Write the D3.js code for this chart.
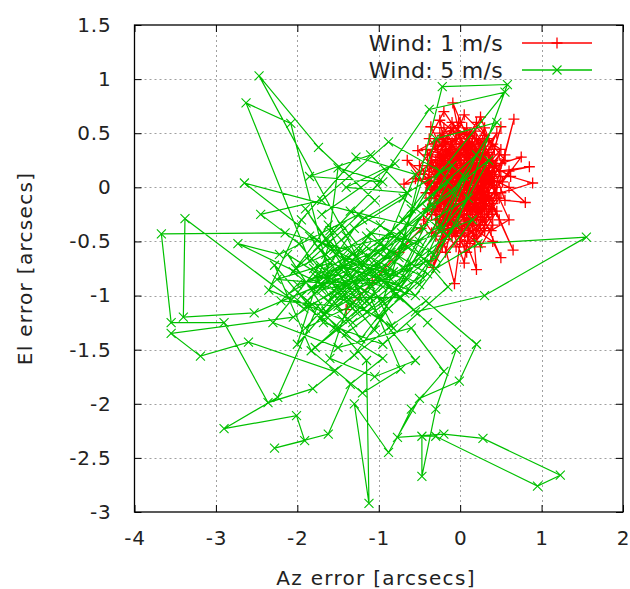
<!DOCTYPE html>
<html>
<head>
<meta charset="utf-8">
<script src="https://cdn.jsdelivr.net/npm/d3@7"></script>
<style>
  html, body { margin: 0; padding: 0; background: #fff; }
  svg { display: block; }
  text { font-family: "DejaVu Sans", sans-serif; fill: #222; }
</style>
</head>
<body>
<script>
// ---- data ----
const xTicks = [-4, -3, -2, -1, 0, 1, 2];
const yTicks = [-3, -2.5, -2, -1.5, -1, -0.5, 0, 0.5, 1, 1.5];
const xLabel = "Az error [arcsecs]";
const yLabel = "El error [arcsecs]";
const seriesNames = ["Wind: 1 m/s", "Wind: 5 m/s"];

// Wind 1 m/s : [az, el]
const wind1 = [
[-1.40,-1.13],[-1.08,-0.88],[-0.75,-0.6],[-0.48,-0.38],[-0.28,-0.18],[-0.1,0.02],[0.12,-0.1],[0.05,0.22],[-0.18,0.08],[0.2,0.15],
[0.32,-0.12],[0.08,-0.3],[-0.15,-0.2],[-0.3,0.18],[0.02,0.4],[0.25,0.3],[0.4,0.05],[0.15,-0.22],[-0.05,0.0],[-0.22,-0.38],
[0.1,-0.45],[0.35,-0.25],[0.5,0.1],[0.28,0.42],[-0.08,0.55],[-0.35,0.3],[-0.42,-0.05],[-0.12,-0.12],[0.18,0.05],[0.05,0.3],
[-0.25,0.45],[-0.52,0.34],[-0.2,0.1],[0.1,0.12],[0.3,0.2],[0.45,-0.1],[0.22,-0.35],[-0.02,-0.25],[-0.3,-0.1],[-0.65,0.25],
[-0.28,0.0],[0.0,0.08],[0.15,0.35],[-0.09,0.78],[0.0,0.45],[0.25,0.05],[0.38,-0.2],[0.12,-0.52],[-0.15,-0.4],[-0.36,-0.68],
[-0.1,-0.28],[0.08,-0.05],[0.32,0.12],[0.55,0.25],[0.3,0.48],[0.05,0.67],[-0.15,0.3],[-0.38,0.05],[-0.18,-0.15],[0.05,-0.15],
[0.22,0.1],[0.42,0.35],[0.5,0.56],[0.35,0.18],[0.15,-0.05],[-0.05,0.15],[-0.25,0.28],[-0.45,0.12],[-0.22,-0.25],[0.02,-0.4],
[0.2,-0.76],[0.15,-0.3],[0.3,-0.05],[0.48,-0.3],[0.65,-0.58],[0.4,-0.15],[0.2,0.22],[-0.05,0.35],[-0.2,0.55],[-0.36,0.56],
[-0.12,0.2],[0.1,-0.02],[0.28,-0.22],[0.05,-0.1],[-0.12,0.05],[-0.3,-0.22],[-0.07,-0.89],[0.0,-0.5],[0.18,-0.15],[0.38,0.08],
[0.6,0.0],[0.8,-0.14],[0.55,-0.12],[0.35,0.3],[0.12,0.5],[-0.1,0.42],[-0.28,0.15],[-0.4,-0.2],[-0.15,-0.05],[0.05,0.18],
[0.25,0.38],[0.3,0.55],[0.1,0.25],[-0.08,-0.02],[-0.25,-0.3],[-0.05,-0.42],[0.2,-0.25],[0.42,-0.05],[0.66,0.63],[0.55,0.3],
[0.35,0.0],[0.12,-0.2],[-0.1,-0.1],[-0.32,0.1],[-0.69,0.03],[-0.4,0.2],[-0.18,0.35],[0.02,0.2],[0.2,0.0],[0.4,-0.35],
[0.25,-0.55],[0.05,-0.3],[-0.12,-0.18],[-0.28,0.05],[-0.1,0.22],[0.08,0.4],[0.3,0.25],[0.48,0.15],[0.85,0.19],[0.6,0.15],
[0.35,-0.1],[0.15,0.1],[-0.05,0.28],[-0.22,0.12],[-0.38,-0.1],[-0.2,-0.48],[0.0,-0.22],[0.18,-0.05],[0.35,0.15],[0.15,0.32],
[-0.05,0.5],[-0.25,0.62],[-0.15,0.25],[0.05,0.05],[0.25,-0.12],[0.45,-0.22],[0.3,-0.4],[0.08,-0.6],[-0.1,-0.35],[-0.33,-0.74],
[-0.15,-0.25],[0.05,-0.02],[0.22,0.18],[0.4,0.4],[0.2,0.6],[0.0,0.35],[-0.18,0.0],[-0.35,-0.25],[-0.12,-0.3],[0.1,-0.18],
[0.3,0.08],[0.52,0.05],[0.75,0.28],[0.5,0.22],[0.28,0.1],[0.08,0.25],[-0.12,0.4],[-0.3,0.38],[-0.5,0.2],[-0.25,-0.02],
[0.0,-0.12],[0.2,-0.4],[0.4,-0.5],[0.5,-0.65],[0.3,-0.3],[0.1,0.0],[-0.08,0.12],[-0.2,-0.08],[-0.45,-0.3],[-0.22,-0.55],
[0.02,-0.38],[0.2,-0.1],[0.36,0.22],[0.18,0.45],[-0.02,0.6],[-0.2,0.42],[-0.05,0.15],[0.15,-0.05],[0.32,-0.18],[0.12,-0.35],
[-0.08,-0.15],[-0.3,0.0],[-0.55,0.08],[-0.35,0.25],[-0.1,0.32],[0.12,0.2],[0.3,0.35],[0.45,0.5],[0.25,0.2],[0.05,-0.08],
[-0.15,-0.28],[0.05,-0.7],[0.1,-0.42],[0.28,-0.15],[0.5,-0.05],[0.89,0.04],[0.62,0.1],[0.4,0.2],[0.2,0.08],[0.0,0.2],
[-0.18,0.22],[-0.38,0.45],[-0.2,0.7],[-0.02,0.5],[0.15,0.15],[0.35,-0.05],[0.2,-0.28],[0.0,-0.45],[-0.18,-0.6],[-0.05,-0.2],
[0.12,0.02],[0.28,0.28],[0.1,0.45],[-0.1,0.08],[-0.28,-0.15],[-0.08,-0.32],[0.15,-0.2],[0.38,-0.4],[0.6,-0.3],[0.42,0.0],
[0.22,0.3],[0.02,0.12],[-0.2,0.3],[-0.42,0.35],[-0.25,0.1],[-0.05,-0.05],[0.15,0.25],[0.35,0.45],[0.25,0.65],[0.08,0.3],
[-0.12,-0.08],[-0.35,-0.42],[-0.15,-0.35],[0.08,-0.25],[0.28,0.0],[0.48,0.3],[0.3,0.12],[0.1,-0.12],[-0.1,0.0],[-0.25,0.2],
[0.0,0.1],[0.2,-0.2],[0.4,0.1],[0.15,0.4],[-0.05,0.25],[-0.2,-0.2],[0.05,-0.55],[0.25,-0.35],[0.05,0.0],[-0.15,0.15],
[0.0,0.05],[0.15,0.2],[-0.1,0.3],[-0.25,0.1],[-0.05,-0.15],[0.2,-0.1],[0.3,0.15],[0.1,0.35],[-0.15,0.45],[-0.3,0.25],
[-0.2,-0.05],[0.05,-0.25],[0.25,-0.3],[0.35,-0.05],[0.2,0.25],[0.0,0.4],[-0.2,0.2],[-0.35,-0.05],[-0.15,-0.3],[0.1,-0.15],
[0.3,0.05],[0.4,0.25],[0.2,0.45],[-0.05,0.2],[-0.22,0.0],[-0.1,-0.2],[0.15,-0.35],[0.32,-0.15],[0.15,0.08],[-0.08,0.1],
[-0.28,0.35],[-0.12,0.52],[0.1,0.3],[0.25,0.1],[0.38,-0.12],[0.22,-0.22],[0.0,-0.05],[-0.18,0.15],[-0.32,0.4],[-0.1,0.6],
[0.08,0.42],[0.28,0.2],[0.45,0.0],[0.3,-0.2],[0.1,-0.3],[-0.1,-0.45],[-0.25,-0.2],[-0.05,0.05],[0.18,0.18],[0.35,0.32],
[0.18,0.52],[-0.02,0.32],[-0.2,0.05],[-0.38,0.15],[-0.22,0.38],[0.0,0.25],[0.2,0.0],[0.4,-0.25],[0.2,-0.45],[-0.02,-0.32],
[-0.18,-0.12],[0.02,0.12],[0.22,0.35],[0.42,0.15],[0.25,-0.05],[0.05,-0.2],[-0.15,0.0],[-0.3,0.12],[-0.12,0.35],[0.08,0.55],
[0.25,0.4],[0.1,0.15],[-0.08,-0.08],[-0.25,-0.35],[-0.05,-0.55],[0.15,-0.4],[0.32,-0.28],[0.48,-0.1],[0.3,0.1],[0.12,0.28],
[-0.05,0.45],[-0.22,0.3],[-0.4,0.05],[-0.2,-0.15],[0.02,-0.05],[0.2,0.12],[0.38,0.38],[0.2,0.2],[0.0,0.0],[-0.18,-0.25],
[0.05,-0.4],[0.25,-0.18],[0.42,0.05],[0.25,0.28],[0.05,0.38],[-0.15,0.22],[-0.32,-0.15],[-0.12,-0.02],[0.1,0.05],[0.28,-0.08],
[0.12,-0.25],[-0.08,0.18],[-0.25,0.5],[-0.05,0.3],[0.15,0.42],[0.35,0.22],[0.5,0.35],[0.3,0.45],[0.1,0.1],[-0.1,-0.3],
[-0.3,-0.45],[-0.1,-0.2],[0.08,0.02],[0.25,0.22],[0.05,0.5],[-0.18,0.4],[-0.35,0.2],[-0.15,-0.1],[0.05,-0.28],[0.22,-0.02],
[0.4,0.12],[0.2,0.3],[0.02,0.18],[-0.2,-0.02],[-0.05,-0.35],[0.18,-0.5],[0.3,-0.38],[0.15,-0.12],[-0.02,0.08],[-0.2,0.25],
[-0.4,0.3],[-0.22,0.48],[0.0,0.6],[0.18,0.35],[0.35,0.1],[0.15,-0.08],[-0.05,0.22],[-0.25,0.15],[-0.1,-0.05],[0.1,0.22],
[0.3,0.32],[0.45,0.2],[0.28,0.0],[0.08,-0.12],[-0.12,0.1],[-0.3,-0.3],[-0.08,-0.4],[0.12,-0.2],[0.3,-0.1],[0.1,0.18],
[-0.1,0.38],[-0.28,0.2],[-0.1,0.0],[0.1,-0.08],[0.28,0.12],[0.12,0.38],[-0.08,0.25],[-0.2,-0.12],[0.0,-0.22],[0.2,0.05]
];

// Wind 5 m/s : [az, el]
const wind5 = [
[-0.62,-0.95],[-1.45,-0.72],[-1.88,-1.05],[-1.15,-0.55],[-0.48,-0.82],[-1.32,-1.25],[-2.05,-0.78],[-1.62,-0.35],[-0.95,-0.92],[-1.78,-1.48],
[-1.12,-1.08],[-0.35,-0.6],[-1.25,-0.25],[-2.22,-0.62],[-2.73,-0.52],[-1.55,-0.95],[-0.82,-1.3],[-1.4,-0.45],[-2.47,1.03],[-1.74,0.37],
[-1.05,-0.12],[-1.85,-0.68],[-2.63,0.78],[-2.08,0.59],[-1.62,-0.78],[-0.92,-0.55],[-0.55,0.12],[-1.28,0.28],[-1.95,-0.3],[-2.35,-0.95],
[-1.45,-1.22],[-0.75,-0.65],[-0.22,0.93],[0.58,0.95],[-0.05,-0.35],[-0.68,-0.98],[-1.52,-0.62],[-2.65,0.04],[-1.35,-0.22],[-0.45,-0.38],
[-1.18,-0.82],[-1.92,-1.12],[-3.38,-0.29],[-3.4,-1.2],[-2.53,-1.16],[-1.72,-0.9],[-0.98,-0.35],[-0.3,-0.75],[0.22,-0.52],[1.55,-0.46],
[0.3,-1.0],[-0.55,-1.15],[-1.38,-0.58],[-2.15,-0.42],[-3.67,-0.43],[-3.55,-1.25],[-2.9,-1.25],[-2.36,-1.99],[-1.81,-1.86],[-1.3,-1.55],
[-0.88,-1.12],[-1.6,-0.5],[-2.0,-1.45],[-1.48,-1.0],[-0.72,-0.42],[-0.15,-0.92],[-0.95,-1.45],[-1.68,-1.25],[-2.28,-0.72],[-1.83,-1.51],
[-1.2,-1.9],[-0.73,-1.68],[-1.1,-1.02],[-1.75,-0.55],[-1.02,0.02],[-0.38,0.72],[0.55,0.88],[-0.6,-0.2],[-1.4,-0.88],[-2.05,-1.2],
[-3.55,-1.35],[-3.19,-1.56],[-2.6,-1.43],[-1.55,-1.7],[-0.85,-1.28],[-0.42,-1.05],[0.2,-1.45],[-0.01,-1.79],[-0.5,-1.95],[-0.88,-2.45],
[-1.3,-2.0],[-1.12,-2.92],[-1.15,-1.6],[-1.75,-1.1],[-2.24,-1.94],[-2.9,-2.23],[-2.01,-2.11],[-1.91,-2.34],[-2.28,-2.41],[-1.62,-2.28],
[-1.35,-1.82],[-0.95,-1.58],[-1.55,-1.3],[-2.1,-0.98],[-1.42,-0.65],[-0.82,-0.78],[-1.28,-1.15],[-1.98,-0.52],[-2.45,-0.25],[-1.7,-0.12],
[-0.88,0.42],[-0.25,0.15],[-0.9,-0.62],[-1.62,-1.05],[-1.1,-0.42],[-0.5,-0.5],[-1.05,-1.32],[-1.72,-0.72],[-2.3,-1.25],[-1.5,-1.48],
[-0.6,-1.3],[-0.2,-1.7],[-0.6,-2.05],[-0.77,-2.31],[-0.2,-2.28],[0.28,-2.32],[1.23,-2.66],[0.95,-2.76],[-0.3,-2.3],[-0.47,-2.3],
[-0.47,-2.67],[-0.3,-2.05],[-0.05,-1.5],[-0.4,-1.25],[-1.2,-0.68],[-1.82,-0.95],[-1.3,-0.38],[-0.7,-0.1],[-0.15,-0.45],[-0.85,-0.85],
[-1.58,-0.88],[-2.12,-0.62],[-1.65,-1.15],[-1.0,-0.72],[-0.4,-0.2],[0.35,0.25],[-0.3,-0.65],[-1.1,-0.9],[-1.78,-0.82],[-1.22,-1.4],
[-0.65,-0.85],[-1.3,-0.7],[-2.0,-0.9],[-1.5,-0.8],[-0.95,-1.05],[-0.3,0.45],[0.45,0.6],[-0.1,-0.05],[-0.8,-0.45],[-1.55,-0.58],
[-1.9,-0.2],[-1.25,-0.95],[-0.55,-1.6],[-1.05,-1.75],[-1.6,-1.58],[-1.35,-1.02],[-0.75,-1.02],[-1.45,-0.35],[-2.02,-0.75],[-1.65,-0.62],
[-1.2,-0.3],[-0.1,0.2],[-0.9,-0.8],[-1.7,-0.95],[-1.0,-0.6],[0.1,-0.1],[-0.6,-0.7],[-1.5,-1.1],[-2.2,-1.05],[-1.35,-0.8],
[-0.7,-0.3],[0.2,0.3],[-0.5,-0.9],[-1.25,-0.58],[-1.95,-1.0],[-1.4,-1.35],[-0.8,-1.0],[-0.25,-0.35],[-1.05,-0.78],[-1.85,-0.45],
[-1.15,-1.15],[-0.45,-0.7],[0.05,0.1],[-0.75,-0.9],[-1.6,-0.7],[-2.25,-0.85],[-1.45,-0.9],[-0.65,-0.55],[-1.35,-1.1],[-1.9,-1.3],
[-1.1,-0.65],[-0.35,-0.15],[-0.95,-0.75],[-1.7,-1.2],[-1.25,-0.85],[-0.55,-1.0],[0.15,-0.3],[-0.85,-0.6],[-1.55,-1.0],[-1.0,-1.2],
[-0.4,-0.8],[-1.15,-0.45],[-1.8,-0.75],[-1.3,-0.95],[-0.7,-0.75],[-0.15,0.05],[-1.0,-0.5],[-1.65,-0.85],[-1.2,-1.05],[-1.6,-0.4],
[-1.5,0.18],[-0.95,0.05],[-1.85,0.1],[-1.1,0.3],[-0.65,-0.05],[-1.4,0.0],[-0.8,0.22],[-1.7,-0.25]
];

// ---- drawing ----
const W = 630, H = 589;
const svg = d3.select("body").append("svg").attr("width", W).attr("height", H);

const x = d3.scaleLinear().domain([-4, 2]).range([134.5, 623]);
const y = d3.scaleLinear().domain([-3, 1.5]).range([512, 25]);
const [x0, x1] = x.range();
const [y0, y1] = y.range(); // y0 bottom, y1 top

const fmt = d => String(d);

// grid
const grid = svg.append("g").attr("stroke", "#a0a0a0").attr("stroke-width", 1)
  .attr("stroke-dasharray", "2,3");
grid.selectAll(".gx").data(xTicks.slice(1, -1)).join("line")
  .attr("x1", d => Math.round(x(d)) + 0.5).attr("x2", d => Math.round(x(d)) + 0.5)
  .attr("y1", y1).attr("y2", y0);
grid.selectAll(".gy").data(yTicks.slice(1, -1)).join("line")
  .attr("y1", d => Math.round(y(d)) + 0.5).attr("y2", d => Math.round(y(d)) + 0.5)
  .attr("x1", x0).attr("x2", x1);

// axes
function styleAxis(g) {
  g.select(".domain").remove();
  g.selectAll(".tick line").attr("stroke", "#000").attr("stroke-width", 1);
  g.selectAll(".tick text").attr("font-family", "DejaVu Sans, sans-serif")
    .attr("font-size", 20).attr("fill", "#222").attr("letter-spacing", 0.8);
}
svg.append("g").attr("transform", `translate(0,${y0})`)
  .call(d3.axisBottom(x).tickValues(xTicks).tickFormat(fmt).tickSize(-7).tickPadding(19))
  .call(styleAxis);
svg.append("g").attr("transform", `translate(0,${y1})`)
  .call(d3.axisTop(x).tickValues(xTicks).tickFormat("").tickSize(-7))
  .call(styleAxis);
svg.append("g").attr("transform", `translate(${x0},0)`)
  .call(d3.axisLeft(y).tickValues(yTicks).tickFormat(fmt).tickSize(-7).tickPadding(23))
  .call(styleAxis);
svg.append("g").attr("transform", `translate(${x1},0)`)
  .call(d3.axisRight(y).tickValues(yTicks).tickFormat("").tickSize(-7))
  .call(styleAxis);

// data
const line = d3.line().x(d => x(d[0])).y(d => y(d[1]));
const RED = "#ff0000", GREEN = "#00c000";

function plus(g, pts, color, r, sw) {
  g.selectAll(null).data(pts).join("path")
    .attr("d", d => {
      const cx = x(d[0]), cy = y(d[1]);
      return `M${cx - r},${cy}H${cx + r}M${cx},${cy - r}V${cy + r}`;
    })
    .attr("stroke", color).attr("stroke-width", sw).attr("fill", "none");
}
function cross(g, pts, color, r, sw) {
  g.selectAll(null).data(pts).join("path")
    .attr("d", d => {
      const cx = x(d[0]), cy = y(d[1]);
      return `M${cx - r},${cy - r}L${cx + r},${cy + r}M${cx - r},${cy + r}L${cx + r},${cy - r}`;
    })
    .attr("stroke", color).attr("stroke-width", sw).attr("fill", "none");
}

const gRed = svg.append("g");
gRed.append("path").datum(wind1).attr("d", line)
  .attr("fill", "none").attr("stroke", RED).attr("stroke-width", 1.3);
plus(gRed, wind1, RED, 5.5, 1.3);

const gGreen = svg.append("g");
gGreen.append("path").datum(wind5).attr("d", line)
  .attr("fill", "none").attr("stroke", GREEN).attr("stroke-width", 1.2);
cross(gGreen, wind5, GREEN, 4.5, 1.1);

// frame
svg.append("rect").attr("x", x0).attr("y", y1)
  .attr("width", x1 - x0).attr("height", y0 - y1)
  .attr("fill", "none").attr("stroke", "#000").attr("stroke-width", 1.3);

// legend
const legendY = [43, 70];
const colors = [RED, GREEN];
const lg = svg.append("g");
seriesNames.forEach((name, i) => {
  lg.append("text").attr("x", 503).attr("y", legendY[i]).attr("dy", "0.36em")
    .attr("text-anchor", "end").attr("font-size", 22).attr("letter-spacing", 0.3).text(name);
  lg.append("line").attr("x1", 522).attr("x2", 592)
    .attr("y1", legendY[i]).attr("y2", legendY[i])
    .attr("stroke", colors[i]).attr("stroke-width", 1.3);
});
plus(lg, [[x.invert(557), y.invert(legendY[0])]], RED, 5.5, 1.3);
cross(lg, [[x.invert(557), y.invert(legendY[1])]], GREEN, 4.5, 1.1);

// axis titles
svg.append("text").attr("x", 376).attr("y", 585).attr("text-anchor", "middle")
  .attr("font-size", 20).attr("letter-spacing", 1.3).text(xLabel);
svg.append("text").attr("transform", `translate(32,${(y0 + y1) / 2}) rotate(-90)`)
  .attr("text-anchor", "middle").attr("font-size", 20).attr("letter-spacing", 1.3).text(yLabel);
</script>
</body>
</html>
